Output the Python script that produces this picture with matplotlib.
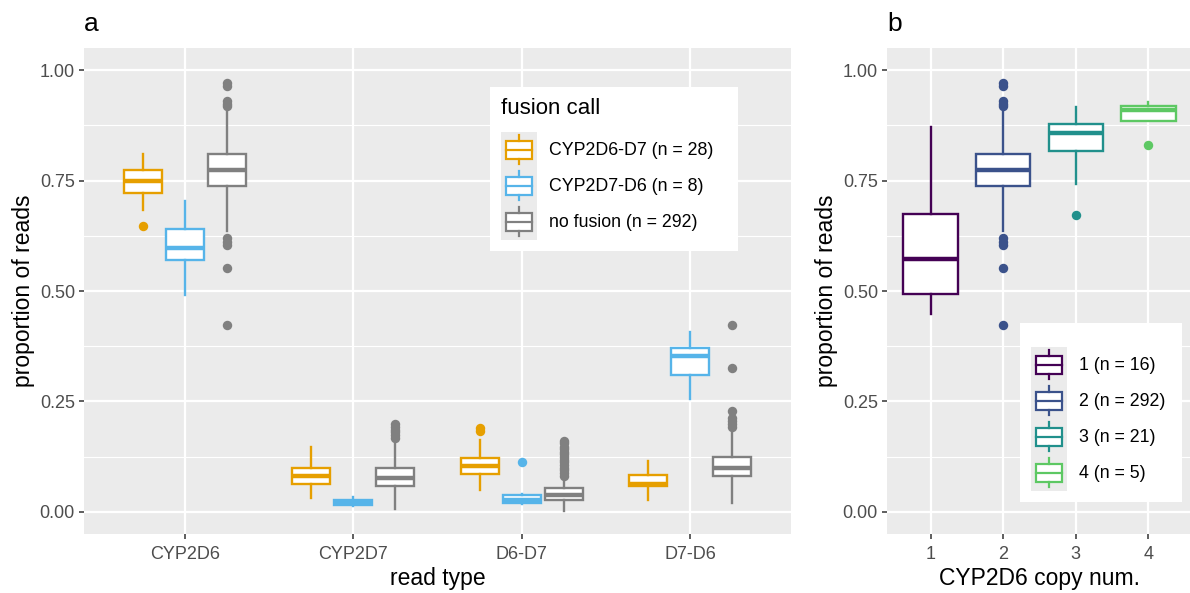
import matplotlib
matplotlib.use("Agg")
import matplotlib.pyplot as plt
from matplotlib.patches import Patch, Rectangle
from matplotlib.lines import Line2D
from matplotlib.legend_handler import HandlerBase
from matplotlib.ticker import FixedLocator

plt.rcParams['font.family'] = ['Liberation Sans', 'DejaVu Sans']

# ---------------- data: panel a ----------------
read_types = ['CYP2D6', 'CYP2D7', 'D6-D7', 'D7-D6']
fusion_labels = ['CYP2D6-D7 (n = 28)', 'CYP2D7-D6 (n = 8)', 'no fusion (n = 292)']
fusion_colors = ['#E69F00', '#56B4E9', '#808080']

d6d7_med = [0.750, 0.081, 0.105, 0.063]
d6d7_q1 = [0.722, 0.063, 0.085, 0.058]
d6d7_q3 = [0.773, 0.099, 0.121, 0.084]
d6d7_lo = [0.684, 0.032, 0.050, 0.028]
d6d7_hi = [0.810, 0.146, 0.163, 0.116]
d6d7_fliers = [[0.646], [], [0.190, 0.184], []]

d7d6_med = [0.597, 0.021, 0.026, 0.352]
d7d6_q1 = [0.570, 0.016, 0.021, 0.311]
d7d6_q3 = [0.640, 0.026, 0.038, 0.370]
d7d6_lo = [0.490, 0.013, 0.018, 0.255]
d7d6_hi = [0.703, 0.033, 0.040, 0.408]
d7d6_fliers = [[], [], [0.112], []]

nofus_med = [0.774, 0.077, 0.039, 0.099]
nofus_q1 = [0.737, 0.058, 0.028, 0.082]
nofus_q3 = [0.809, 0.100, 0.053, 0.125]
nofus_lo = [0.635, 0.007, 0.003, 0.020]
nofus_hi = [0.907, 0.157, 0.079, 0.187]
nofus_fliers = [
    [0.970, 0.965, 0.930, 0.924, 0.918, 0.620, 0.612, 0.605, 0.551, 0.422],
    [0.200, 0.193, 0.186, 0.180, 0.173, 0.167],
    [0.161, 0.155, 0.148, 0.142, 0.136, 0.130, 0.124, 0.118, 0.112, 0.106,
     0.100, 0.094, 0.088, 0.082],
    [0.422, 0.325, 0.228, 0.212, 0.205, 0.198, 0.192],
]

# ---------------- data: panel b ----------------
copy_nums = ['1', '2', '3', '4']
copy_labels = ['1 (n = 16)', '2 (n = 292)', '3 (n = 21)', '4 (n = 5)']
copy_colors = ['#440154', '#3B528B', '#21908C', '#5DC863']
copy_med = [0.573, 0.774, 0.857, 0.910]
copy_q1 = [0.494, 0.737, 0.818, 0.885]
copy_q3 = [0.675, 0.809, 0.877, 0.919]
copy_lo = [0.447, 0.635, 0.742, 0.885]
copy_hi = [0.871, 0.907, 0.916, 0.928]
copy_fliers = [
    [],
    [0.970, 0.965, 0.930, 0.924, 0.918, 0.620, 0.612, 0.605, 0.551, 0.422],
    [0.673],
    [0.831],
]

y_ticks = [0.0, 0.25, 0.5, 0.75, 1.0]
y_minor = [0.125, 0.375, 0.625, 0.875]

# ---------------- style helpers ----------------
BG = '#EBEBEB'
TICKCOL = '#4D4D4D'
W, H = 1190, 593
fig = plt.figure(figsize=(W / 100, H / 100), dpi=100)

LEG_FS = 12.8
TITLE_FS = 16.5


def px_axes(l, t, r, b):
    return fig.add_axes([l / W, 1 - b / H, (r - l) / W, (b - t) / H])


def px_box(l, t, r, b):
    return (l / W, 1 - b / H, (r - l) / W, (b - t) / H)


def style_axes(ax, labels):
    ax.set_facecolor(BG)
    for s in ax.spines.values():
        s.set_visible(False)
    ax.set_axisbelow(True)
    ax.set_xlim(0.4, 4.6)
    ax.set_ylim(-0.05, 1.05)
    ax.set_xticks(range(1, len(labels) + 1))
    ax.set_xticklabels(labels)
    ax.yaxis.set_major_locator(FixedLocator(y_ticks))
    ax.yaxis.set_minor_locator(FixedLocator(y_minor))
    ax.set_yticklabels(['%.2f' % v for v in y_ticks])
    ax.grid(which='major', color='white', lw=1.6)
    ax.grid(which='minor', axis='y', color='white', lw=0.8)
    ax.tick_params(which='major', length=3.5, width=1.1, color='#333333',
                   labelcolor=TICKCOL, labelsize=13, pad=3)
    ax.tick_params(axis='x', which='major', pad=5)
    ax.tick_params(which='minor', length=0)


def draw_boxes(ax, pos, med, q1, q3, lo, hi, fliers, color, width):
    stats = []
    for i in range(len(med)):
        stats.append(dict(med=med[i], q1=q1[i], q3=q3[i], whislo=lo[i],
                          whishi=hi[i], fliers=fliers[i]))
    ax.bxp(stats, positions=pos, widths=width, patch_artist=True,
           showcaps=False, manage_ticks=False,
           boxprops=dict(facecolor='white', edgecolor=color, lw=1.7),
           medianprops=dict(color=color, lw=3.2, solid_capstyle='butt'),
           whiskerprops=dict(color=color, lw=1.7),
           flierprops=dict(marker='o', markerfacecolor=color,
                           markeredgecolor='none', markersize=6.8))


class BoxKeyHandler(HandlerBase):
    def create_artists(self, legend, orig_handle, xdescent, ydescent,
                       width, height, fontsize, trans):
        col = orig_handle.get_edgecolor()
        x0, y0 = -xdescent, -ydescent
        bg = Rectangle((x0, y0), width, height, facecolor=BG,
                       edgecolor='none', transform=trans)
        box = Rectangle((x0 + 0.125 * width, y0 + 0.25 * height),
                        0.75 * width, 0.5 * height, facecolor='white',
                        edgecolor=col, lw=1.6, transform=trans)
        xm = x0 + 0.5 * width
        med = Line2D([x0 + 0.125 * width, x0 + 0.875 * width],
                     [y0 + 0.5 * height] * 2, color=col, lw=1.6,
                     transform=trans)
        w1 = Line2D([xm, xm], [y0 + 0.1 * height, y0 + 0.25 * height],
                    color=col, lw=1.6, transform=trans)
        w2 = Line2D([xm, xm], [y0 + 0.75 * height, y0 + 0.9 * height],
                    color=col, lw=1.6, transform=trans)
        return [bg, box, med, w1, w2]


LEG_KW = dict(handler_map={Patch: BoxKeyHandler()}, loc='upper left',
              mode='expand', bbox_transform=fig.transFigure, borderaxespad=0,
              frameon=True, fancybox=False, fontsize=LEG_FS,
              labelspacing=0, handlelength=2.02, handleheight=2.74,
              handletextpad=0.67, borderpad=0.62, alignment='left')


def finish_legend(leg, title_gap):
    leg.get_frame().set_facecolor('white')
    leg.get_frame().set_edgecolor('none')
    leg.get_frame().set_alpha(1)
    leg._legend_box.sep = title_gap


# ---------------- panel a ----------------
axa = px_axes(84, 48, 791, 534)
style_axes(axa, read_types)
offsets = [-0.25, 0.0, 0.25]
groups = [
    (d6d7_med, d6d7_q1, d6d7_q3, d6d7_lo, d6d7_hi, d6d7_fliers),
    (d7d6_med, d7d6_q1, d7d6_q3, d7d6_lo, d7d6_hi, d7d6_fliers),
    (nofus_med, nofus_q1, nofus_q3, nofus_lo, nofus_hi, nofus_fliers),
]
for g, (off, col) in enumerate(zip(offsets, fusion_colors)):
    pos = [i + 1 + off for i in range(len(read_types))]
    draw_boxes(axa, pos, *groups[g], color=col, width=0.225)

axa.set_xlabel('read type', fontsize=TITLE_FS, color='black')
axa.xaxis.set_label_coords(0.5, -0.068)
axa.set_ylabel('proportion of reads', fontsize=TITLE_FS, color='black')
axa.yaxis.set_label_coords(-0.07, 0.5)

handles_a = [Patch(edgecolor=c, facecolor='white') for c in fusion_colors]
leg_a = axa.legend(handles_a, fusion_labels, title='fusion call',
                   bbox_to_anchor=px_box(490, 87, 738, 252),
                   title_fontsize=16, **LEG_KW)
finish_legend(leg_a, 9)

# ---------------- panel b ----------------
axb = px_axes(887, 48, 1192, 534)
style_axes(axb, copy_nums)
for i in range(len(copy_nums)):
    draw_boxes(axb, [i + 1], [copy_med[i]], [copy_q1[i]], [copy_q3[i]],
               [copy_lo[i]], [copy_hi[i]], [copy_fliers[i]],
               color=copy_colors[i], width=0.75)
axb.set_xlabel('CYP2D6 copy num.', fontsize=TITLE_FS, color='black')
axb.xaxis.set_label_coords(0.5, -0.068)
axb.set_ylabel('proportion of reads', fontsize=TITLE_FS, color='black')
axb.yaxis.set_label_coords(-0.162, 0.5)

handles_b = [Patch(edgecolor=c, facecolor='white') for c in copy_colors]
leg_b = axb.legend(handles_b, copy_labels, title=' ',
                   bbox_to_anchor=px_box(1020, 323, 1182, 503),
                   title_fontsize=6, **LEG_KW)
finish_legend(leg_b, 4)

# ---------------- tags ----------------
fig.text(84 / W, 1 - 31 / H, 'a', fontsize=19, va='baseline', ha='left')
fig.text(887 / W, 1 - 31 / H, 'b', fontsize=19, va='baseline', ha='left')

fig.savefig('out.png', dpi=100, facecolor='white')
